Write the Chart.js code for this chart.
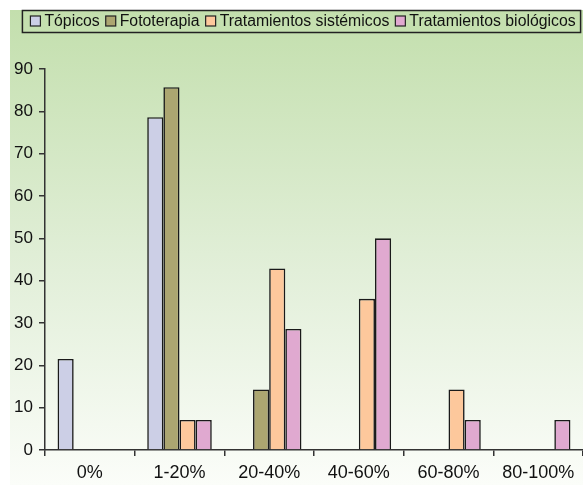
<!DOCTYPE html>
<html>
<head>
<meta charset="utf-8">
<script src="https://cdn.jsdelivr.net/npm/chart.js@4/dist/chart.umd.min.js"></script>
<style>
  html, body { margin: 0; padding: 0; background: #fff; }
  #wrap { width: 583px; height: 485px; }
</style>
</head>
<body>
<div id="wrap"><canvas id="chart"></canvas></div>
<script>
const categories = ["0%", "1-20%", "20-40%", "40-60%", "60-80%", "80-100%"];
const seriesNames = ["Tópicos", "Fototerapia", "Tratamientos sistémicos", "Tratamientos biológicos"];
const topicos = [21.5, 78.6, 0, 0, 0, 0];
const fototerapia = [0, 85.7, 14.3, 0, 0, 0];
const sistemicos = [0, 7.1, 42.9, 35.7, 14.3, 0];
const biologicos = [0, 7.1, 28.6, 50, 7.1, 7.1];
const colors = ["#cccfe6", "#aca671", "#fdc89c", "#e0a9d0"];

const FONT = "'Liberation Sans', Arial, Helvetica, sans-serif";

// gradient backdrop behind everything
const backdrop = {
  id: "backdrop",
  beforeDraw(chart) {
    const ctx = chart.ctx;
    const g = ctx.createLinearGradient(0, 10, 0, chart.height);
    g.addColorStop(0, "#c3dfad");
    g.addColorStop(0.55, "#e2efd9");
    g.addColorStop(1, "#fbfdf9");
    ctx.save();
    ctx.fillStyle = g;
    ctx.fillRect(10, 10, chart.width - 10, chart.height - 10);
    ctx.restore();
  },
};

// boxed legend on one row
const boxLegend = {
  id: "boxLegend",
  afterDraw(chart) {
    const ctx = chart.ctx;
    ctx.save();
    ctx.font = "15.8px " + FONT;
    ctx.textBaseline = "middle";
    const box = 10, gapText = 4, gapItem = 6;
    const items = chart.data.datasets.map((ds) => ({
      label: ds.label,
      color: ds.backgroundColor,
      w: box + gapText + ctx.measureText(ds.label).width,
    }));
    const total = items.reduce((s, it) => s + it.w, 0) + gapItem * (items.length - 1);
    let x = 303 - total / 2;
    const cy = 21;
    ctx.strokeStyle = "#222";
    ctx.lineWidth = 1.5;
    ctx.strokeRect(x - 8, 10.5, total + 13, 22);
    items.forEach((it) => {
      ctx.fillStyle = it.color;
      ctx.fillRect(x, cy - 5, box, box);
      ctx.lineWidth = 1.2;
      ctx.strokeRect(x, cy - 5, box, box);
      ctx.fillStyle = "#111";
      ctx.fillText(it.label, x + box + gapText, cy + 1);
      x += it.w + gapItem;
    });
    ctx.restore();
  },
};

const seriesData = [topicos, fototerapia, sistemicos, biologicos];

new Chart(document.getElementById("chart"), {
  type: "bar",
  data: {
    labels: categories,
    datasets: seriesNames.map((name, i) => ({
      label: name,
      data: seriesData[i],
      backgroundColor: colors[i],
      borderColor: "#1a1a1a",
      borderWidth: 1.6,
      categoryPercentage: 0.72,
      barPercentage: 1,
    })),
  },
  options: {
    responsive: true,
    maintainAspectRatio: false,
    animation: false,
    layout: { padding: { left: 10, top: 69, right: 0, bottom: 0 } },
    plugins: {
      legend: { display: false },
      tooltip: { enabled: false },
    },
    scales: {
      x: {
        offset: true,
        grid: {
          offset: true,
          drawOnChartArea: false,
          tickLength: 6,
          color: "#333",
          lineWidth: 1.5,
        },
        border: { color: "#333", width: 1.5 },
        ticks: {
          color: "#111",
          font: { family: FONT, size: 18 },
          padding: 6,
        },
        afterFit(scale) { scale.height = 35; },
      },
      y: {
        min: 0,
        max: 90,
        ticks: {
          stepSize: 10,
          color: "#111",
          font: { family: FONT, size: 17 },
          padding: 6,
        },
        grid: {
          drawOnChartArea: false,
          tickLength: 6,
          color: "#333",
          lineWidth: 1.5,
        },
        border: { color: "#333", width: 1.5 },
        afterFit(scale) { scale.width = 35; },
      },
    },
  },
  plugins: [backdrop, boxLegend],
});
</script>
</body>
</html>
